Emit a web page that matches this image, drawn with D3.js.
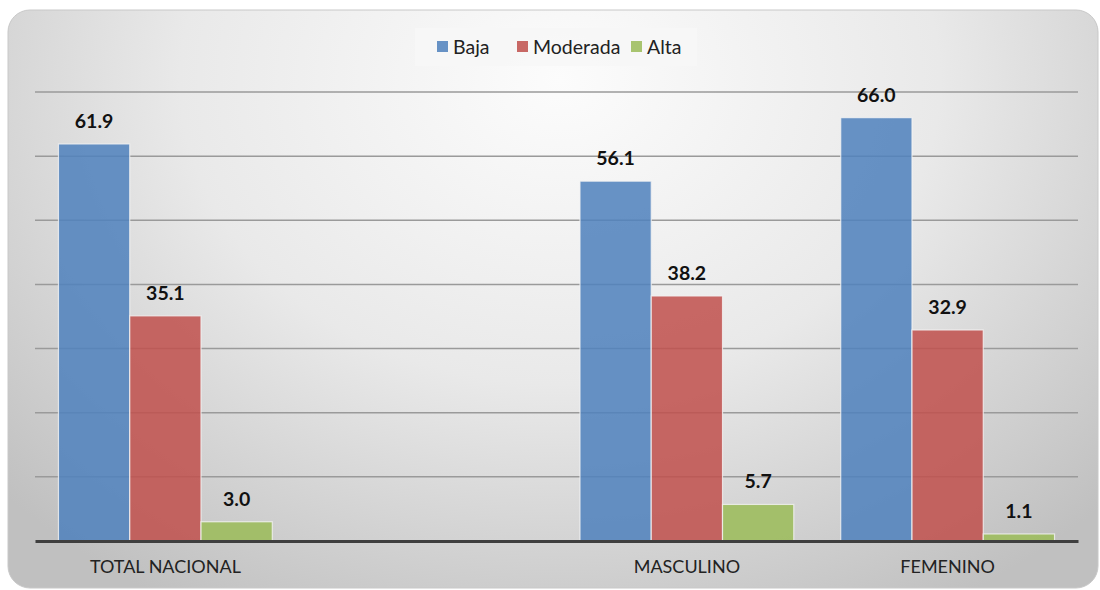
<!DOCTYPE html>
<html>
<head>
<meta charset="utf-8">
<script src="https://cdn.jsdelivr.net/npm/d3@7"></script>
<style>
  html, body { margin: 0; padding: 0; background: #ffffff; }
  svg { display: block; font-family: Lato, "Open Sans", sans-serif; }
</style>
</head>
<body>
<div id="chart"></div>
<script>
// ── DATA ─────────────────────────────────────────────────────────────────────
const categories = ['TOTAL NACIONAL', '', 'MASCULINO', 'FEMENINO'];
const seriesNames = ['Baja', 'Moderada', 'Alta'];
const baja     = [61.9, null, 56.1, 66.0];
const moderada = [35.1, null, 38.2, 32.9];
const alta     = [3.0,  null, 5.7,  1.1];
const yTicks   = [10, 20, 30, 40, 50, 60, 70];

const SERIES_COLOR = {
  Baja:     '#4f81bd',
  Moderada: '#c0504d',
  Alta:     '#9bbb59'
};

// ── DIMENSIONS ───────────────────────────────────────────────────────────────
const W = 1100, H = 590;
const margin = { top: 92, right: 22, bottom: 49, left: 35 };
const width  = W - margin.left - margin.right;
const height = H - margin.top  - margin.bottom;

const svg = d3.select('#chart')
  .append('svg')
    .attr('width', W)
    .attr('height', H);

// ── BACKGROUND PANEL ─────────────────────────────────────────────────────────
const defs = svg.append('defs');
const grad = defs.append('radialGradient')
  .attr('id', 'bg-grad')
  .attr('gradientUnits', 'userSpaceOnUse')
  .attr('cx', 560).attr('cy', 80)
  .attr('r', 760)
  .attr('gradientTransform', 'translate(560,80) scale(1,0.8) translate(-560,-80)');
grad.append('stop').attr('offset', '0%').attr('stop-color', '#fcfcfc');
grad.append('stop').attr('offset', '50%').attr('stop-color', '#e9e9e9');
grad.append('stop').attr('offset', '100%').attr('stop-color', '#c0c0c0');

svg.append('rect')
  .attr('x', 8).attr('y', 10)
  .attr('width', 1090).attr('height', 578)
  .attr('rx', 22).attr('ry', 22)
  .attr('fill', 'url(#bg-grad)')
  .attr('stroke', '#c8c8c8')
  .attr('stroke-width', 1);

const g = svg.append('g')
  .attr('transform', `translate(${margin.left},${margin.top})`);

// ── SCALES ───────────────────────────────────────────────────────────────────
const x0 = d3.scaleBand()
  .domain(d3.range(categories.length))
  .range([0, width])
  .paddingInner(0)
  .paddingOuter(0);

const x1 = d3.scaleBand()
  .domain(seriesNames)
  .range([x0.bandwidth() * 0.09, x0.bandwidth() * 0.91])
  .padding(0);

const y = d3.scaleLinear().domain([0, 70]).range([height, 0]);

// ── GRIDLINES ────────────────────────────────────────────────────────────────
g.append('g')
  .selectAll('line')
  .data(yTicks)
  .join('line')
    .attr('x1', 0).attr('x2', width)
    .attr('y1', d => y(d)).attr('y2', d => y(d))
    .attr('stroke', '#9a9a9a')
    .attr('stroke-width', 1.5);

// ── BARS ─────────────────────────────────────────────────────────────────────
const valuesBySeries = { Baja: baja, Moderada: moderada, Alta: alta };
const rows = [];
categories.forEach((c, i) => {
  seriesNames.forEach(s => {
    const v = valuesBySeries[s][i];
    if (v != null) rows.push({ i, series: s, value: v });
  });
});

g.append('g')
  .selectAll('rect')
  .data(rows)
  .join('rect')
    .attr('x', d => x0(d.i) + x1(d.series))
    .attr('y', d => y(d.value))
    .attr('width', x1.bandwidth())
    .attr('height', d => height - y(d.value))
    .attr('fill', d => SERIES_COLOR[d.series])
    .attr('fill-opacity', 0.86)
    .attr('stroke', '#f4f4f4')
    .attr('stroke-opacity', 0.8)
    .attr('stroke-width', 1.2);

// ── VALUE LABELS ─────────────────────────────────────────────────────────────
g.append('g')
  .selectAll('text')
  .data(rows)
  .join('text')
    .attr('x', d => x0(d.i) + x1(d.series) + x1.bandwidth() / 2)
    .attr('y', d => y(d.value) - 16)
    .attr('text-anchor', 'middle')
    .attr('font-size', '19.5px')
    .attr('font-weight', 'bold')
    .attr('fill', '#111')
    .text(d => d.value.toFixed(1));

// ── X AXIS ───────────────────────────────────────────────────────────────────
const xAxis = g.append('g')
  .attr('transform', `translate(0,${height})`)
  .call(d3.axisBottom(x0).tickSize(0).tickPadding(19).tickFormat(i => categories[i]));
xAxis.select('.domain')
  .attr('stroke', '#3f3f3f')
  .attr('stroke-width', 3);
xAxis.selectAll('text')
  .attr('font-family', 'Lato, "Open Sans", sans-serif')
  .attr('font-size', '18px')
  .attr('fill', '#222');

// ── LEGEND ───────────────────────────────────────────────────────────────────
const legend = svg.append('g').attr('transform', 'translate(415,28)');
legend.append('rect')
  .attr('width', 282).attr('height', 38)
  .attr('fill', '#f7f7f7')
  .attr('fill-opacity', 0.85);

const legendX = [22, 102, 216];
const items = legend.selectAll('g.item')
  .data(seriesNames)
  .join('g')
    .attr('class', 'item')
    .attr('transform', (d, i) => `translate(${legendX[i]},19)`);
items.append('rect')
  .attr('x', 0).attr('y', -6)
  .attr('width', 11).attr('height', 11)
  .attr('fill', d => SERIES_COLOR[d])
  .attr('fill-opacity', 0.86);
items.append('text')
  .attr('x', 16)
  .attr('dy', '0.35em')
  .attr('font-size', '19.5px')
  .attr('fill', '#222')
  .text(d => d);
</script>
</body>
</html>
